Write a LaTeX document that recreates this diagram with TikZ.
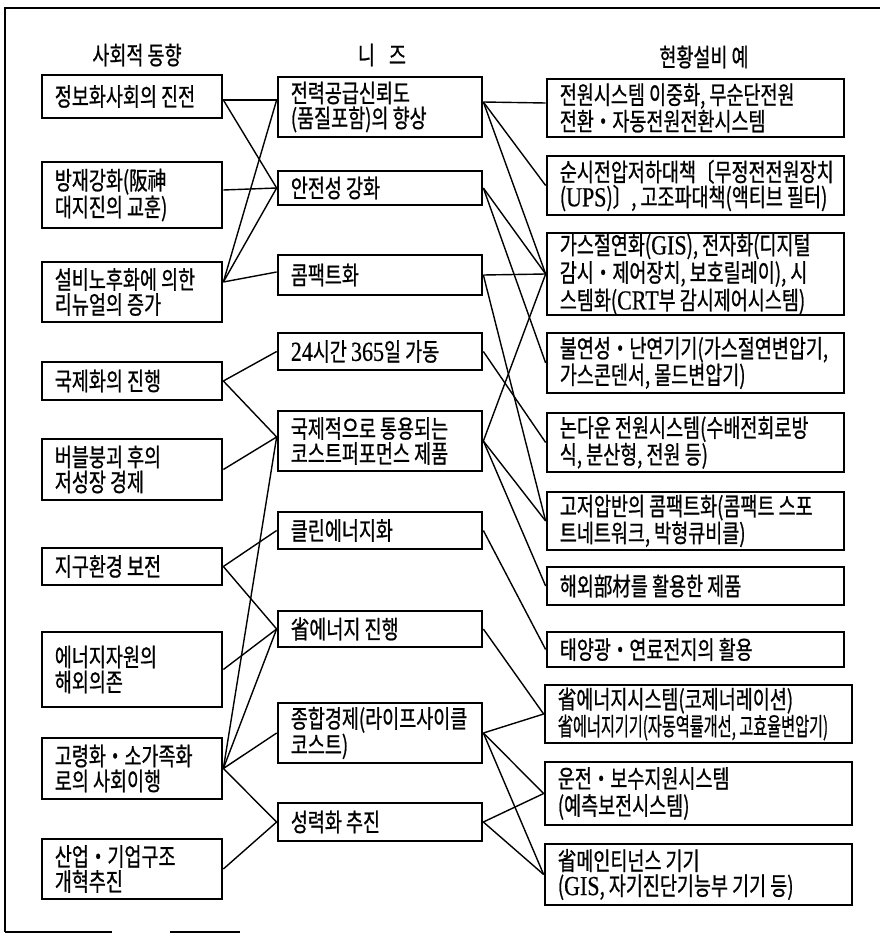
\documentclass[tikz,border=0pt]{standalone}
\usepackage{fontspec}
\setmainfont{Noto Sans CJK KR}[FakeStretch=0.74,FakeBold=0.8]
\newfontfamily\lat{Liberation Serif}[FakeStretch=0.8,Scale=1.1,FakeBold=0.5]
\newcommand{\kbox}[6]{%
  \node[box, minimum width=#4pt, minimum height=#5pt] (#1) at (#2+#4/2, #3+#5/2) {};
  \node[txt] at ([xshift=14pt]#1.west) {#6};}
\begin{document}
\begin{tikzpicture}[x=1pt,y=-1pt,
  box/.style={draw, line width=2.7pt, inner sep=0pt},
  txt/.style={anchor=west, align=left, inner sep=0pt, font=\fontsize{25}{25}\selectfont},
  head/.style={inner sep=0pt, font=\fontsize{25}{25}\selectfont},
  conn/.style={line width=1.4pt},
  frame/.style={line width=1.3pt}]
\useasboundingbox (0,0) rectangle (880,934);
% frame
\draw[frame] (5,932) -- (5,8) -- (880,8);
\draw[frame] (5,932) -- (112,932);
\draw[frame] (170,932) -- (240,932);
% headers
\node[head] (h1) at (137,55) {사회적 동향};
\node[head] (h2) at (382,55) {니\hspace{14pt}즈};
\node[head] (h3) at (704,57) {현황설비 예};
% left column
\kbox{L1}{42}{75}{180}{43}{정보화사회의 진전}
\kbox{L2}{42}{162}{180}{66}{방재강화(阪神\\대지진의 교훈)}
\kbox{L3}{42}{262}{180}{60}{설비노후화에 의한\\리뉴얼의 증가}
\kbox{L4}{42}{362}{180}{38}{국제화의 진행}
\kbox{L5}{42}{439}{180}{61}{버블붕괴 후의\\저성장 경제}
\kbox{L6}{42}{548}{180}{37}{지구환경 보전}
\kbox{L7}{42}{632}{180}{75}{에너지자원의\\해외의존}
\kbox{L8}{42}{738}{180}{61}{고령화・소가족화\\로의 사회이행}
\kbox{L9}{42}{839}{180}{60}{산업・기업구조\\개혁추진}
% middle column
\kbox{M1}{278}{77}{204}{60}{전력공급신뢰도\\(품질포함)의 향상}
\kbox{M2}{278}{171}{204}{34}{안전성 강화}
\kbox{M3}{278}{255}{204}{40}{콤팩트화}
\kbox{M4}{278}{333}{204}{37}{{\lat 24}시간 {\lat 365}일 가동}
\kbox{M5}{278}{411}{204}{60}{국제적으로 통용되는\\코스트퍼포먼스 제품}
\kbox{M6}{278}{512}{204}{37}{클린에너지화}
\kbox{M7}{278}{611}{204}{36}{省에너지 진행}
\kbox{M8}{278}{703}{204}{60}{종합경제(라이프사이클\\코스트)}
\kbox{M9}{278}{803}{204}{38}{성력화 추진}
% right column
\kbox{R1}{547}{79}{297}{58}{전원시스템 이중화, 무순단전원\\전환・자동전원전환시스템}
\kbox{R2}{547}{156}{297}{59}{순시전압저하대책〔무정전전원장치\\({\lat UPS})〕, 고조파대책(액티브 필터)}
\kbox{R3}{547}{233}{297}{82}{가스절연화({\lat GIS}), 전자화(디지털\\[1pt]감시・제어장치, 보호릴레이), 시\\[1pt]스템화({\lat CRT}부 감시제어시스템)}
\kbox{R4}{547}{333}{297}{60}{불연성・난연기기(가스절연변압기,\\가스콘덴서, 몰드변압기)}
\kbox{R5}{547}{413}{297}{59}{논다운 전원시스템(수배전회로방\\식, 분산형, 전원 등)}
\kbox{R6}{547}{492}{297}{58}{고저압반의 콤팩트화(콤팩트 스포\\트네트워크, 박형큐비클)}
\kbox{R7}{547}{567}{297}{38}{해외部材를 활용한 제품}
\kbox{R8}{547}{632}{297}{35}{태양광・연료전지의 활용}
\kbox{R9}{545}{685}{307}{58}{省에너지시스템(코제너레이션)\\\scalebox{0.82}[1]{省에너지기기(자동역률개선, 고효율변압기)}}
\kbox{R10}{545}{762}{307}{63}{운전・보수지원시스템\\[2pt](예측보전시스템)}
\kbox{R11}{545}{844}{307}{61}{省메인티넌스 기기\\({\lat GIS}, 자기진단기능부 기기 등)}
% left -> middle
\draw[conn] ([yshift=-3.5pt]L1.east) -- ([yshift=7pt]M1.west);
\draw[conn] ([yshift=-3.5pt]L1.east) -- (M2.west);
\draw[conn] ([yshift=5pt]L2.east) -- (M2.west);
\draw[conn] ([yshift=10pt]L3.east) -- ([yshift=7pt]M1.west);
\draw[conn] ([yshift=10pt]L3.east) -- (M2.west);
\draw[conn] ([yshift=10pt]L3.east) -- ([yshift=3pt]M3.west);
\draw[conn] (L4.east) -- (M4.west);
\draw[conn] (L4.east) -- ([yshift=4pt]M5.west);
\draw[conn] (L5.east) -- ([yshift=4pt]M5.west);
\draw[conn] (L6.east) -- (M6.west);
\draw[conn] (L6.east) -- (M7.west);
\draw[conn] (L7.east) -- (M7.west);
\draw[conn] (L8.east) -- ([yshift=4pt]M5.west);
\draw[conn] (L8.east) -- (M7.west);
\draw[conn] (L8.east) -- (M8.west);
\draw[conn] (L8.east) -- (M9.west);
\draw[conn] (L9.east) -- (M9.west);
% middle -> right
\draw[conn] ([yshift=5pt]M1.east) -- ([yshift=5pt]R1.west);
\draw[conn] ([yshift=5pt]M1.east) -- (R2.west);
\draw[conn] ([yshift=5pt]M1.east) -- (R3.west);
\draw[conn] (M2.east) -- (R3.west);
\draw[conn] (M2.east) -- (R4.west);
\draw[conn] (M3.east) -- (R3.west);
\draw[conn] (M3.east) -- (R6.west);
\draw[conn] (M4.east) -- (R5.west);
\draw[conn] (M5.east) -- (R3.west);
\draw[conn] (M5.east) -- (R6.west);
\draw[conn] (M5.east) -- (R7.west);
\draw[conn] (M6.east) -- (R8.west);
\draw[conn] (M7.east) -- (R9.west);
\draw[conn] (M8.east) -- (R9.west);
\draw[conn] (M8.east) -- (R10.west);
\draw[conn] (M8.east) -- (R11.west);
\draw[conn] (M9.east) -- (R10.west);
\draw[conn] (M9.east) -- (R11.west);
\end{tikzpicture}
\end{document}
